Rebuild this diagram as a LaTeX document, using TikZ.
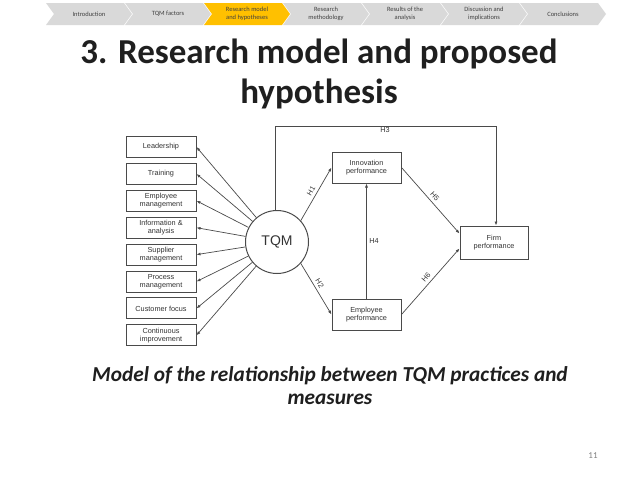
\documentclass[tikz,border=0pt]{standalone}
\usepackage{fontspec}
\setmainfont{Carlito}
\newfontfamily\arialf{Liberation Sans}
\usetikzlibrary{arrows.meta,calc}
\definecolor{chevgray}{HTML}{D9D9D9}
\definecolor{chevyellow}{HTML}{FFC000}
\definecolor{chevtext}{HTML}{404040}
\definecolor{titlecol}{HTML}{1F1F1F}
\definecolor{diagline}{HTML}{4A4A4A}
\definecolor{diagtext}{HTML}{333333}
\tikzset{
  chevlabel/.style={font=\fontsize{6.5}{7.5}\selectfont, text=chevtext, align=center},
  factorbox/.style={draw=diagline, line width=1pt, minimum width=70pt, minimum height=21pt, inner sep=0pt, align=center, font=\arialf\fontsize{7.3}{7.8}\selectfont, text=diagtext},
  perfbox/.style={draw=diagline, line width=1pt, minimum width=69pt, minimum height=31pt, inner sep=0pt, align=center, font=\arialf\fontsize{7.3}{8.4}\selectfont, text=diagtext},
  conn/.style={draw=diagline, line width=0.7pt, -{Latex[length=4pt,width=3pt]}},
  hlabel/.style={font=\arialf\fontsize{7.3}{8}\selectfont, text=diagtext, inner sep=0.5pt}
}
\begin{document}
\begin{tikzpicture}[x=1pt,y=-1pt]
\useasboundingbox (0,0) rectangle (638,479);
\fill[white] (0,0) rectangle (638,479);
% breadcrumb chevrons
\foreach \i/\txt in {0/Introduction,1/TQM factors,2/{Research model\\and hypotheses},3/{Research\\methodology},4/{Results of the\\analysis},5/{Discussion and\\implications},6/Conclusions}{
  \pgfmathsetmacro{\L}{46+79*\i}
  \pgfmathsetmacro{\R}{\L+78}
  \ifnum\i=2 \def\fc{chevyellow}\else\def\fc{chevgray}\fi
  \fill[\fc] (\L,3) -- (\R,3) -- (\R+8,14) -- (\R,25) -- (\L,25) -- (\L+8,14) -- cycle;
  \node[chevlabel] (chev\i) at (\L+43,14) {\txt};
}
% title
\node[font=\bfseries\fontsize{35}{40}\selectfont, text=titlecol, align=center] (title) at (319,74) {3. Research model and proposed\\hypothesis};
% factor boxes
\foreach \n/\txt [count=\k from 0] in {lead/Leadership,train/Training,emp/{Employee\\management},info/{Information \&\\analysis},sup/{Supplier\\management},proc/{Process\\management},cust/Customer focus,cont/{Continuous\\improvement}}{
  \node[factorbox] (\n) at (161,{147+26.9*\k}) {\txt};
}
% TQM circle
\node[draw=diagline, line width=1pt, circle, minimum size=63pt, inner sep=0pt, font=\arialf\fontsize{14}{16}\selectfont, text=diagtext] (tqm) at (277,242) {TQM};
\foreach \n in {lead,train,emp,info,sup,proc,cust,cont}{
  \draw[conn] (tqm) -- (\n.east);
}
% performance boxes
\node[perfbox] (inno) at (366.5,167.5) {Innovation\\performance};
\node[perfbox] (empp) at (366.5,314.5) {Employee\\performance};
\node[perfbox, minimum width=68pt, minimum height=33pt] (firm) at (494,242.5) {Firm\\performance};
% H3 path
\coordinate (h3a) at (275,126);
\coordinate (h3b) at (496,126);
\draw[conn] (tqm.north -| h3a) -- (h3a) -- (h3b) -- (firm.north -| h3b);
\node[hlabel, below=1pt] (h3) at (385,126) {H3};
% H1
\draw[conn] (tqm.42) -- (inno.west) node[hlabel, midway, above=2.5pt, sloped] (h1) {H1};
% H2
\draw[conn] (tqm.-42) -- (empp.west) node[hlabel, pos=0.45, above=2.5pt, sloped] (h2) {H2};
% H4
\draw[conn] (empp.north) -- (inno.south) node[hlabel, midway, right=2pt] (h4) {H4};
% H5
\coordinate (firmin5) at ($(firm.west)+(0,-9)$);
\draw[conn] (inno.east) -- (firmin5) node[hlabel, midway, above=2.5pt, sloped] (h5) {H5};
% H6
\coordinate (firmin6) at ($(firm.west)+(0,6)$);
\draw[conn] (empp.east) -- (firmin6) node[hlabel, midway, above=2.5pt, sloped] (h6) {H6};
% caption
\node[font=\bfseries\itshape\fontsize{21.3}{23}\selectfont, text=titlecol, align=center] (cap) at (330,386) {Model of the relationship between TQM practices and\\measures};
% page number
\node[font=\fontsize{9}{10}\selectfont, text=gray] (pnum) at (593,456) {11};
\end{tikzpicture}
\end{document}
